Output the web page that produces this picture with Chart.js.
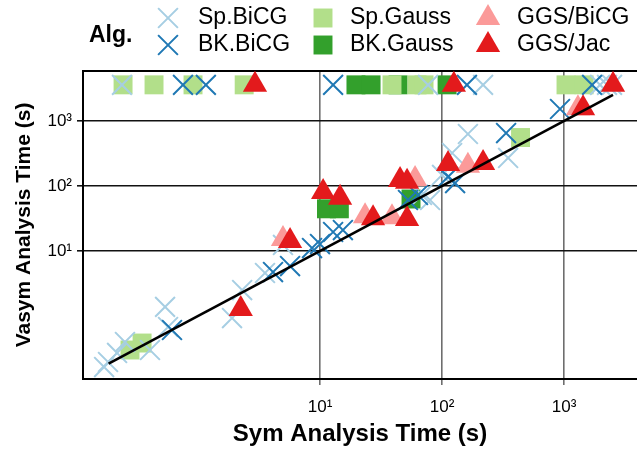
<!DOCTYPE html>
<html>
<head>
<meta charset="utf-8">
<script src="https://cdn.jsdelivr.net/npm/chart.js@4.4.1/dist/chart.umd.min.js"></script>
<style>
  html, body { margin: 0; padding: 0; background: #fff; }
</style>
</head>
<body>
<canvas id="chart" width="637" height="452"></canvas>
<script>
const TIMEOUT = 3600;

// [sym time, vasym time] in seconds
const spBicg = [
  [0.17, 0.164], [0.183, 0.196], [0.217, 0.27], [0.252, 0.398], [0.404, 0.30],
  [0.537, 1.38], [0.568, 0.678], [1.90, 0.931], [2.30, 2.51], [3.54, 4.59],
  [4.97, 12.4], [68.5, 72.7], [79.8, 60.9], [100, 148], [121, 322], [163, 631], [348, 270],
  [0.238, TIMEOUT], [76.8, TIMEOUT], [217, TIMEOUT], [1974, TIMEOUT], [2251, TIMEOUT], [2474, TIMEOUT]
];
const bkBicg = [
  [0.612, 0.609], [4.12, 4.75], [5.68, 5.87], [8.6, 11.1], [10, 12.8], [12.8, 19.6],
  [15.4, 21.0], [52.6, 60.9], [63.5, 72.7], [112, 138], [128, 111], [335, 653], [927, 1530],
  [0.753, TIMEOUT], [1.16, TIMEOUT], [12.8, TIMEOUT], [160, TIMEOUT], [1698, TIMEOUT]
];
const spGauss = [
  [0.277, 0.30], [0.348, 0.384], [440, 557],
  [0.243, TIMEOUT], [0.436, TIMEOUT], [0.91, TIMEOUT], [2.39, TIMEOUT], [38.9, TIMEOUT],
  [62.4, TIMEOUT], [71.2, TIMEOUT], [1038, TIMEOUT], [1460, TIMEOUT]
];
const bkGauss = [
  [11.3, 44.6], [14.4, 44.6], [55.7, 63.1],
  [19.7, TIMEOUT], [26.2, TIMEOUT], [43.6, TIMEOUT], [110, TIMEOUT]
];
const ggsBicg = [
  [4.97, 15.3], [23.4, 34.2], [38.9, 33], [60.1, 128], [163, 205], [1300, 1567]
];
const ggsJac = [
  [2.24, 1.28], [5.68, 14.3], [10.6, 81], [14.6, 66], [27.2, 31.8], [51.7, 31.1],
  [45.3, 124], [51.7, 116], [112, 218], [217, 226], [1432, 1567],
  [2.93, TIMEOUT], [125, TIMEOUT], [2521, TIMEOUT]
];
const refLine = [[0.185, 0.185], [2520, 2520]];

const seriesNames = ["Sp.BiCG", "BK.BiCG", "Sp.Gauss", "BK.Gauss", "GGS/BiCG", "GGS/Jac"];
const seriesData = [spBicg, bkBicg, spGauss, bkGauss, ggsBicg, ggsJac];
const seriesColors = ["#a6cee3", "#1f78b4", "#b2df8a", "#33a02c", "#fb9a99", "#e31a1c"];
const seriesShapes = ["crossRot", "crossRot", "rect", "rect", "triangle", "triangle"];
const seriesOrder = [3, 2, 4, 5, 1, 0]; // lower = drawn on top

const xTicks = [10, 100, 1000];
const yTicks = [10, 100, 1000];
const sup = { 1: "\u00b9", 2: "\u00b2", 3: "\u00b3" };

const FONT = "'Liberation Sans', Arial, Helvetica, sans-serif";

function radiusFor(shape) {
  if (shape === "rect") return 13.4;
  return 14;
}

const datasets = seriesNames.map((name, i) => ({
  label: name,
  data: seriesData[i].map(([x, y]) => ({ x, y })),
  pointStyle: seriesShapes[i],
  pointRadius: radiusFor(seriesShapes[i]),
  pointHoverRadius: radiusFor(seriesShapes[i]),
  pointBorderWidth: seriesShapes[i] === "crossRot" ? 2 : 0,
  borderColor: seriesColors[i],
  backgroundColor: seriesColors[i],
  showLine: false,
  clip: false,
  order: seriesOrder[i]
}));

datasets.push({
  label: "ref",
  data: refLine.map(([x, y]) => ({ x, y })),
  showLine: true,
  borderColor: "#000",
  borderWidth: 2.6,
  pointRadius: 0,
  order: -1
});

// top edge of the panel box
const frameTop = {
  id: "frameTop",
  beforeDatasetsDraw(chart) {
    const { ctx, chartArea: a } = chart;
    ctx.save();
    ctx.strokeStyle = "#000";
    ctx.lineWidth = 2;
    ctx.beginPath();
    ctx.moveTo(a.left - 1, a.top);
    ctx.lineTo(a.right, a.top);
    ctx.stroke();
    ctx.restore();
  }
};

// ggplot-like legend: title on the left, 3 columns x 2 rows
const algLegend = {
  id: "algLegend",
  afterDraw(chart) {
    const ctx = chart.ctx;
    const markerX = [168, 323, 488];
    const textX = [198, 350, 517];
    const rowY = [18, 45];
    ctx.save();
    ctx.fillStyle = "#000";
    ctx.font = "bold 23px " + FONT;
    ctx.textBaseline = "middle";
    ctx.textAlign = "left";
    ctx.fillText("Alg.", 89, 36);
    seriesNames.forEach((name, i) => {
      const col = Math.floor(i / 2), row = i % 2;
      const shape = seriesShapes[i];
      ctx.fillStyle = seriesColors[i];
      ctx.strokeStyle = seriesColors[i];
      ctx.lineWidth = 2;
      Chart.helpers.drawPoint(ctx, {
        pointStyle: shape,
        radius: radiusFor(shape),
        rotation: 0,
        borderWidth: shape === "crossRot" ? 2 : 0
      }, markerX[col], rowY[row]);
      ctx.fillStyle = "#000";
      ctx.font = "23px " + FONT;
      ctx.fillText(name, textX[col], rowY[row]);
    });
    ctx.restore();
  }
};

new Chart(document.getElementById("chart"), {
  type: "scatter",
  data: { datasets },
  plugins: [frameTop, algLegend],
  options: {
    responsive: false,
    animation: false,
    layout: { autoPadding: false, padding: { top: 71, left: 0, right: 0, bottom: 0 } },
    plugins: { legend: { display: false }, tooltip: { enabled: false } },
    scales: {
      x: {
        type: "logarithmic",
        min: 0.1141,
        max: 3963,
        afterBuildTicks: (s) => { s.ticks = xTicks.map(v => ({ value: v })); },
        afterFit: (s) => { s.height = 73; s.paddingLeft = 0; s.paddingRight = 0; },
        ticks: {
          color: "#000",
          font: { family: FONT, size: 17 },
          padding: 12,
          maxRotation: 0,
          callback: (v) => "10" + sup[Math.round(Math.log10(v))]
        },
        grid: { color: "#6e6e6e", lineWidth: 1.6, tickLength: 6 },
        border: { color: "#000", width: 2 },
        title: {
          display: true,
          text: "Sym Analysis Time (s)",
          color: "#000",
          font: { family: FONT, size: 24, weight: "bold" },
          padding: { top: 0, bottom: 3 }
        }
      },
      y: {
        type: "logarithmic",
        min: 0.1074,
        max: 5878,
        afterBuildTicks: (s) => { s.ticks = yTicks.map(v => ({ value: v })); },
        afterFit: (s) => { s.width = 83; s.paddingTop = 0; s.paddingBottom = 0; },
        ticks: {
          color: "#000",
          font: { family: FONT, size: 17 },
          padding: 5,
          callback: (v) => "10" + sup[Math.round(Math.log10(v))]
        },
        grid: { color: "#111", lineWidth: 1.6, tickLength: 6 },
        border: { color: "#000", width: 2 },
        title: {
          display: true,
          text: "Vasym Analysis Time (s)",
          color: "#000",
          font: { family: FONT, size: 21, weight: "bold" },
          padding: { top: 12, bottom: 0 }
        }
      }
    }
  }
});
</script>
</body>
</html>
